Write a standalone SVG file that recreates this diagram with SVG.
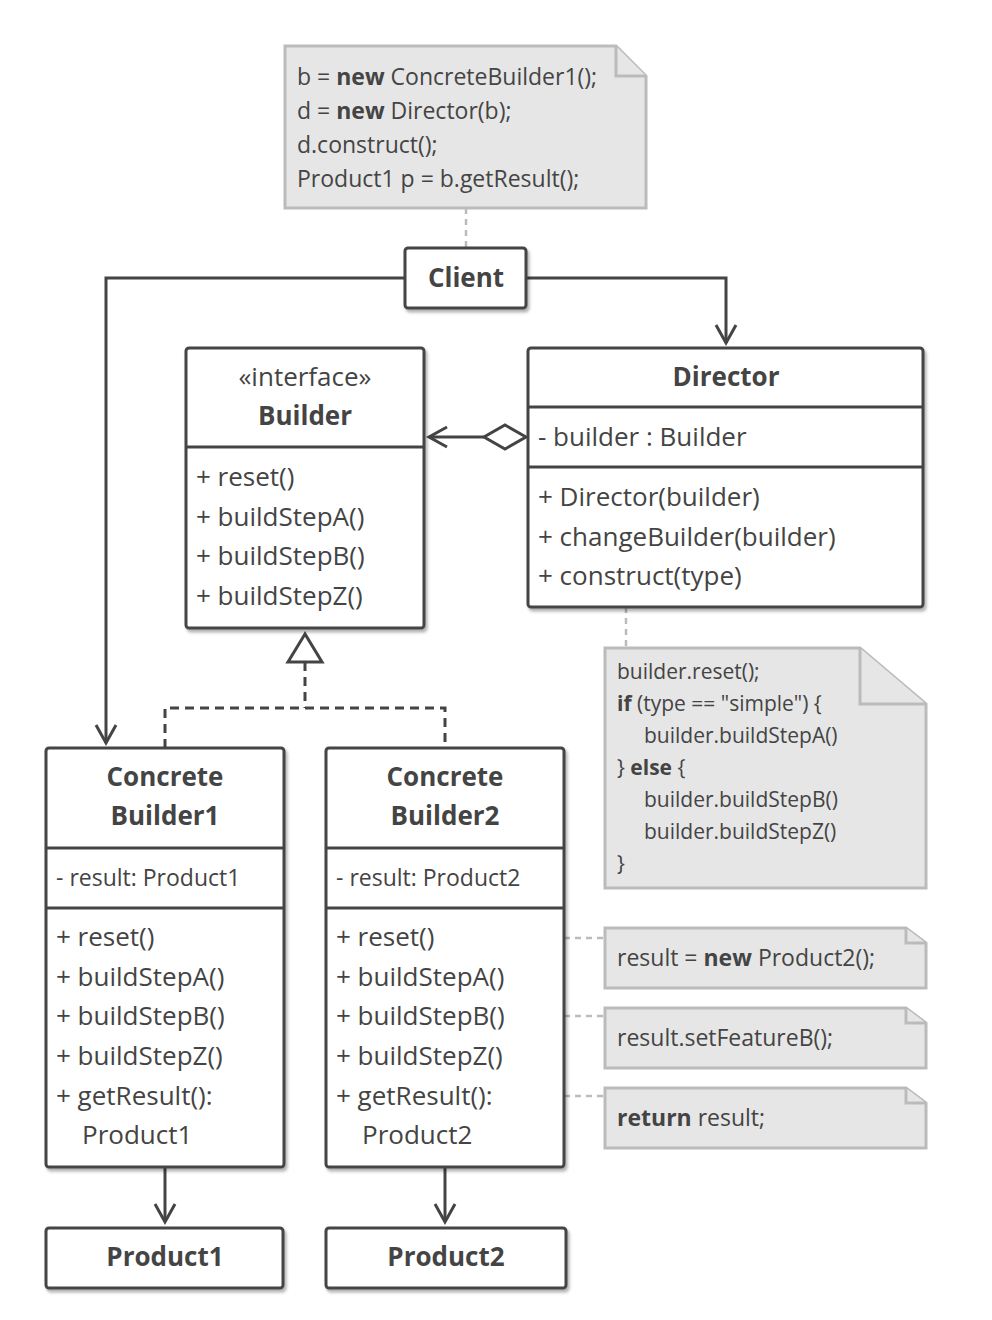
<svg xmlns="http://www.w3.org/2000/svg" width="992" height="1320" viewBox="0 0 992 1320">
<style>
.b{fill:#fff;stroke:#444;stroke-width:3;filter:url(#sh)}
.l{stroke:#444;stroke-width:3;fill:none}
.n{fill:#e6e6e6;stroke:#bbb;stroke-width:3}
.d{stroke:#bbb;stroke-width:2.5;stroke-dasharray:6 5;fill:none}
text{font-family:"Open Sans","Noto Sans",sans-serif;fill:#444}
.t{font-size:26px;font-weight:bold;text-anchor:middle}
.m{font-size:26px}
.s{font-size:23px}
.s2{font-size:21px}
.f{font-size:23px}
</style>
<defs>
<filter id="sh" x="-10%" y="-10%" width="130%" height="130%"><feDropShadow dx="2" dy="3" stdDeviation="1.5" flood-color="#000" flood-opacity="0.3"/></filter>
<marker id="ar" markerWidth="24" markerHeight="24" refX="20" refY="12" orient="auto" markerUnits="userSpaceOnUse"><path d="M2,2 L20,12 L2,22" fill="none" stroke="#444" stroke-width="3"/></marker>
</defs>
<g id="connectors">
<path class="d" d="M466,208V248M626,607V648M564,938H605M564,1016H605M564,1096H605"/>
<path class="l" d="M405,278H106V743" marker-end="url(#ar)"/>
<path class="l" d="M526,278H726V343" marker-end="url(#ar)"/>
<path class="l" d="M484,437H429" marker-end="url(#ar)"/>
<path d="M526,437L505,425L484,437L505,449Z" fill="#fff" stroke="#444" stroke-width="3"/>
<path class="l" stroke-dasharray="9 6" d="M305,662V708M165,748V708H445V748"/>
<path d="M305,634L288,662H322Z" fill="#fff" stroke="#444" stroke-width="3"/>
<path class="l" d="M165,1167V1222" marker-end="url(#ar)"/>
<path class="l" d="M445,1167V1222" marker-end="url(#ar)"/>
</g>
<g id="note1"><path class="n" d="M285,46H616L646,76V208H285Z"/><path class="n" d="M616,46V76H646"/>
<text class="s" x="297" y="85">b = <tspan font-weight="bold">new</tspan> ConcreteBuilder1();</text>
<text class="s" x="297" y="119">d = <tspan font-weight="bold">new</tspan> Director(b);</text>
<text class="s" x="297" y="153">d.construct();</text>
<text class="s" x="297" y="187">Product1 p = b.getResult();</text></g>
<g id="client"><rect class="b" x="405" y="248" width="121" height="60" rx="3"/><text class="t" x="466" y="287">Client</text></g>
<g id="builder"><rect class="b" x="186" y="348" width="238" height="280" rx="3"/><path class="l" d="M186,447H424"/>
<text class="m" x="305" y="386" text-anchor="middle">«interface»</text><text class="t" x="305" y="425">Builder</text>
<text class="m" x="196" y="486">+ reset()</text><text class="m" x="196" y="526">+ buildStepA()</text><text class="m" x="196" y="565">+ buildStepB()</text><text class="m" x="196" y="605">+ buildStepZ()</text></g>
<g id="director"><rect class="b" x="528" y="348" width="395" height="259" rx="3"/><path class="l" d="M528,407H923M528,467H923"/>
<text class="t" x="726" y="386">Director</text>
<text class="m" x="538" y="446">- builder : Builder</text>
<text class="m" x="538" y="506">+ Director(builder)</text><text class="m" x="538" y="546">+ changeBuilder(builder)</text><text class="m" x="538" y="585">+ construct(type)</text></g>
<g id="note2"><path class="n" d="M605,648H860L926,704V888H605Z"/><path class="n" d="M860,648V704H926"/>
<text class="s2" x="617" y="679">builder.reset();</text>
<text class="s2" x="617" y="711"><tspan font-weight="bold">if</tspan> (type == "simple") {</text>
<text class="s2" x="644" y="743">builder.buildStepA()</text>
<text class="s2" x="617" y="775">} <tspan font-weight="bold">else</tspan> {</text>
<text class="s2" x="644" y="807">builder.buildStepB()</text>
<text class="s2" x="644" y="839">builder.buildStepZ()</text>
<text class="s2" x="617" y="871">}</text></g>
<g id="cb1"><rect class="b" x="46" y="748" width="238" height="419" rx="3"/><path class="l" d="M46,848H284M46,908H284"/>
<text class="t" x="165" y="786">Concrete</text><text class="t" x="165" y="825">Builder1</text>
<text class="f" x="56" y="886">- result: Product1</text>
<text class="m" x="56" y="946">+ reset()</text><text class="m" x="56" y="986">+ buildStepA()</text><text class="m" x="56" y="1025">+ buildStepB()</text><text class="m" x="56" y="1065">+ buildStepZ()</text><text class="m" x="56" y="1105">+ getResult():</text><text class="m" x="82" y="1144">Product1</text></g>
<g id="cb2"><rect class="b" x="326" y="748" width="238" height="419" rx="3"/><path class="l" d="M326,848H564M326,908H564"/>
<text class="t" x="445" y="786">Concrete</text><text class="t" x="445" y="825">Builder2</text>
<text class="f" x="336" y="886">- result: Product2</text>
<text class="m" x="336" y="946">+ reset()</text><text class="m" x="336" y="986">+ buildStepA()</text><text class="m" x="336" y="1025">+ buildStepB()</text><text class="m" x="336" y="1065">+ buildStepZ()</text><text class="m" x="336" y="1105">+ getResult():</text><text class="m" x="362" y="1144">Product2</text></g>
<g id="p1"><rect class="b" x="46" y="1228" width="237" height="60" rx="3"/><text class="t" x="165" y="1266">Product1</text></g>
<g id="p2"><rect class="b" x="326" y="1228" width="240" height="60" rx="3"/><text class="t" x="446" y="1266">Product2</text></g>
<g id="n3"><path class="n" d="M605,928H906L926,943V988H605Z"/><path class="n" d="M906,928V943H926"/><text class="s" x="617" y="966">result = <tspan font-weight="bold">new</tspan> Product2();</text></g>
<g id="n4"><path class="n" d="M605,1008H906L926,1023V1068H605Z"/><path class="n" d="M906,1008V1023H926"/><text class="s" x="617" y="1046">result.setFeatureB();</text></g>
<g id="n5"><path class="n" d="M605,1088H906L926,1103V1148H605Z"/><path class="n" d="M906,1088V1103H926"/><text class="s" x="617" y="1126"><tspan font-weight="bold">return</tspan> result;</text></g>
</svg>
